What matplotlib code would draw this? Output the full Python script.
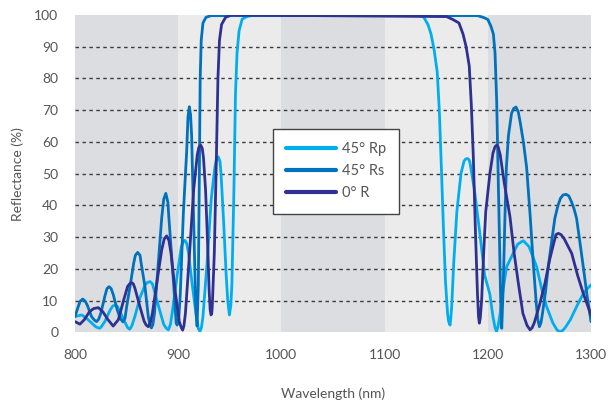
import matplotlib
matplotlib.use("Agg")
import matplotlib.pyplot as plt

# ---- data ----
rp_x = [800, 806.5, 811, 816, 820, 822, 824, 826, 829, 834, 836.5, 838.8, 841, 843, 848, 851, 853, 855,
        858, 863, 868, 870, 872.7, 875, 877, 882, 886, 888.5, 890.4, 892.5, 895, 899, 903, 905,
        906.6, 908.3, 910, 914, 918, 919.5, 921, 922.5, 924, 928, 932, 935.5, 937, 938.9, 940.5,
        941.5, 944, 946.5, 948, 949.6, 951, 952, 954, 955.5, 957, 959, 962, 967, 975,
        1135, 1138, 1142, 1145, 1148, 1151, 1153, 1155, 1157, 1159, 1161, 1162, 1163.4, 1164,
        1165, 1167, 1170, 1174, 1177, 1178.5, 1180.2, 1182, 1183, 1187, 1192, 1197, 1202, 1205,
        1207, 1208.5, 1210, 1212, 1215, 1218.3, 1224.7, 1229, 1234.4, 1240, 1247.3, 1252, 1257,
        1263, 1267, 1269.8, 1272.5, 1275, 1280, 1286, 1293, 1300]
rp_y = [5, 5.5, 4.5, 3, 1.8, 1.5, 1.3, 2, 3.5, 7, 8.3, 8.6, 8.2, 7, 3.5, 1.5, 1, 2,
        5, 11, 15, 15.7, 16, 15.3, 13, 7, 2.5, 1.3, 0.8, 2.5, 8, 18, 27, 28.5,
        29, 28, 25, 14, 4, 1.2, 0.3, 1.5, 5, 22, 42, 52, 54.5, 55.3, 53.8,
        50, 35, 18, 10, 5.5, 8.5, 15, 45, 75, 88, 95, 98.7, 99.6, 100,
        99.8, 99.3, 97, 94, 89, 82, 70, 52, 33, 16, 6, 3.5, 2.3, 4,
        8, 22, 38, 50, 54, 54.6, 54.8, 54.3, 53, 45, 32, 18, 12, 5,
        1.5, 0.3, 2, 6, 14, 20.7, 25, 27.8, 28.9, 27, 20.7, 14, 8.1,
        3, 0.8, 0.2, 0.6, 1.5, 4, 8.1, 12.5, 15]

rs_x = [800, 803, 805, 807.5, 810, 812, 816, 819, 821, 823, 825, 829, 831, 833, 835, 837, 841,
        844, 846.5, 848.5, 850, 853.3, 857, 858.5, 860.7, 863, 864, 867.8, 871, 872.5, 874, 875.5,
        877, 880.7, 884, 886, 888, 890, 891, 895.3, 898, 899, 900.5, 902, 905, 908.2, 909.5,
        910.8, 912, 913, 915, 917, 918.3, 919.5, 920.5, 921.3, 922.3, 924, 927, 932,
        1190, 1196, 1200, 1203, 1205.4, 1207, 1208.6, 1210, 1211.2, 1212.5, 1213.5, 1215,
        1216.5, 1218, 1220, 1223, 1225, 1227.3, 1229.5, 1231.5, 1234.5, 1237.6, 1241, 1244, 1247,
        1248.5, 1250, 1251.5, 1253, 1256, 1258.6, 1262, 1265, 1268, 1270.5, 1273, 1275.8, 1278.5,
        1281, 1283.5, 1286, 1289, 1292.5, 1296, 1300]
rs_y = [5, 8, 9.8, 10.5, 9.8, 8.5, 5, 3.8, 3.4, 4.2, 6, 11.5, 13.8, 14.4, 13.8, 12, 7,
        4.3, 3.3, 4.5, 8, 14.4, 22, 24.3, 25.2, 24.3, 22, 14.4, 5, 2.5, 1.4, 2.5,
        6, 21.8, 36, 42, 43.8, 41, 36, 16.5, 3, 2.3, 4, 12, 37.6, 57, 68,
        71.1, 68.5, 62, 35, 8, 2, 15, 50, 80, 92, 97.5, 99.3, 99.8,
        99.8, 99.2, 98.6, 96.5, 94, 88, 73, 50, 31, 10, 1.3, 15,
        35, 52, 62, 69, 70.5, 71, 69.5, 66, 60, 52, 37, 22, 9,
        4, 1.8, 3, 6, 13, 20.7, 29, 36, 40, 42.3, 43.3, 43.5, 43,
        41.2, 39, 36, 29, 20.7, 12, 3.4]

r0_x = [800, 804.8, 809, 814, 818, 822.6, 827, 832, 837, 842, 847, 851, 853, 854.8, 856.5, 858,
        863, 867, 869, 871, 873, 875, 879, 884, 886.5, 888.8, 891, 893, 897, 901, 903, 904.3,
        905.5, 907, 911, 915, 918.5, 920, 921.8, 923.3, 924.5, 926.5, 928.5, 930, 931, 931.8,
        932.5, 933, 935, 937, 938.5, 940, 942, 946, 952,
        1160, 1166, 1172, 1176, 1179, 1182, 1184, 1186, 1188, 1190, 1191, 1191.8, 1192.7,
        1194, 1196, 1198, 1202, 1205, 1207, 1208.6, 1210, 1212, 1216, 1221.5, 1225.5, 1229.6,
        1234, 1238, 1241, 1243, 1245, 1250, 1255.4, 1260, 1263.5, 1266, 1268.4, 1271, 1274,
        1281.3, 1287, 1292.5, 1300]
r0_y = [3.4, 2.6, 4, 6.5, 7.5, 7.8, 6.5, 4, 2.0, 4, 10, 14.5, 15.3, 15.7, 15.3, 14,
        8, 3.5, 2.3, 1.8, 3, 6, 15, 26, 29.5, 30.4, 29, 25, 13, 3.5, 1.5, 0.7,
        2, 6, 25, 45, 56, 58.3, 59, 58, 55, 45, 28, 13, 7, 5.5,
        6, 8, 25, 55, 80, 92, 97, 99.3, 100,
        99.5, 98.6, 97.5, 94, 90, 84, 72, 55, 32, 12, 5, 2.9, 4.5,
        10, 25, 38, 50, 56.5, 58.5, 59, 58.5, 56, 47, 36.4, 25, 15.5,
        6, 2.2, 0.8, 1.5, 3, 8.5, 15.5, 23, 27.6, 30.8, 31.2, 30.8, 29.5,
        24.9, 18, 12.3, 5.5]

series_labels = ["45° Rp", "45° Rs", "0° R"]
series_colors = ["#00aeef", "#0071bc", "#2e3192"]
x_ticks = [800, 900, 1000, 1100, 1200, 1300]
y_ticks = [0, 10, 20, 30, 40, 50, 60, 70, 80, 90, 100]

plt.rcParams['font.family'] = ['Lato', 'DejaVu Sans']
text_color = "#555555"

fig = plt.figure(figsize=(6.08, 4.01), dpi=100)
ax = fig.add_axes([75/608, 1 - 332.4/401, (591-75)/608, (332.4-15)/401])

band_colors = ["#dcdde0", "#ebebeb", "#dcdde0", "#ebebeb", "#dcdde0"]
for i, c in enumerate(band_colors):
    ax.axvspan(x_ticks[i], x_ticks[i+1], color=c, lw=0, zorder=0)

for yv in y_ticks[1:-1]:
    ax.axhline(yv, color="#3a3a3a", lw=1.0, ls=(0, (2.5, 2.5)), zorder=1)

for xs, ys, lab, col in zip([rp_x, rs_x, r0_x], [rp_y, rs_y, r0_y], series_labels, series_colors):
    ax.plot(xs, ys, color=col, lw=2.0, label=lab, zorder=3,
            solid_joinstyle='round', solid_capstyle='round')

ax.set_xlim(800, 1300)
ax.set_ylim(0, 100)
ax.set_xticks(x_ticks)
ax.set_yticks(y_ticks)
ax.tick_params(length=0, pad=12, labelsize=10, colors=text_color)
for s in ax.spines.values():
    s.set_visible(False)

ax.set_xlabel("Wavelength (nm)", color=text_color, fontsize=10, labelpad=19)
ax.set_ylabel("Reflectance (%)", color=text_color, fontsize=10, labelpad=7)

leg = ax.legend(loc="upper left", bbox_to_anchor=(0.384, 0.64), frameon=True, fancybox=False,
                handlelength=3.4, handletextpad=0.4, labelspacing=0.55, borderpad=0.9,
                fontsize=10.5, borderaxespad=0)
leg.get_frame().set_edgecolor("#444444")
leg.get_frame().set_facecolor("white")
leg.get_frame().set_alpha(1)
leg.get_frame().set_linewidth(1.0)
for t in leg.get_texts():
    t.set_color(text_color)
for h in leg.get_lines():
    h.set_linewidth(3)

fig.savefig("out.png", dpi=100)
